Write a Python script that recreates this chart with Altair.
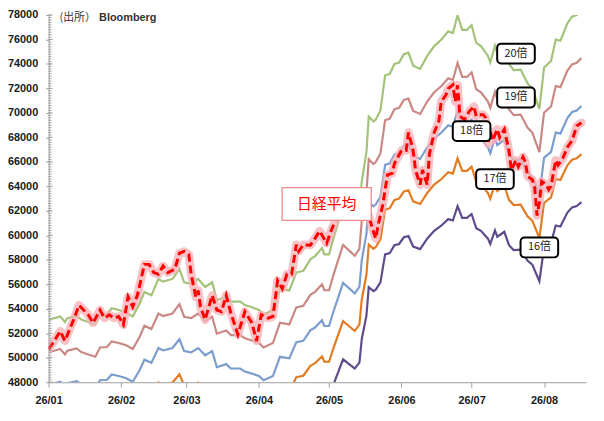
import altair as alt
import pandas as pd

# ---- EPS (1株利益) used for the PER bands ----
eps_dates = [
    "2026-01-05", "2026-01-10", "2026-01-12", "2026-01-13", "2026-01-17", "2026-01-19",
    "2026-01-22", "2026-01-25", "2026-01-27", "2026-01-30", "2026-02-01", "2026-02-04",
    "2026-02-07", "2026-02-10", "2026-02-13", "2026-02-15", "2026-02-18", "2026-02-21",
    "2026-02-23", "2026-02-27", "2026-03-02", "2026-03-04", "2026-03-07", "2026-03-10",
    "2026-03-13", "2026-03-16", "2026-03-18", "2026-03-22", "2026-03-24", "2026-03-28",
    "2026-03-30", "2026-04-02", "2026-04-05", "2026-04-07", "2026-04-11", "2026-04-14",
    "2026-04-18", "2026-04-21", "2026-04-24", "2026-04-27", "2026-04-29", "2026-05-02",
    "2026-05-03", "2026-05-05", "2026-05-07", "2026-05-11", "2026-05-14", "2026-05-16",
    "2026-05-18", "2026-05-19", "2026-05-21", "2026-05-22", "2026-05-24", "2026-05-25",
    "2026-05-27", "2026-05-29", "2026-05-31", "2026-06-02", "2026-06-04", "2026-06-06",
    "2026-06-08", "2026-06-10", "2026-06-13", "2026-06-16", "2026-06-19", "2026-06-22",
    "2026-06-25", "2026-06-27", "2026-06-29", "2026-07-01", "2026-07-03", "2026-07-05",
    "2026-07-07", "2026-07-09", "2026-07-12", "2026-07-13", "2026-07-15", "2026-07-16",
    "2026-07-19", "2026-07-21", "2026-07-23", "2026-07-26", "2026-07-29", "2026-07-31",
    "2026-08-03", "2026-08-05", "2026-08-08", "2026-08-10", "2026-08-12", "2026-08-15",
    "2026-08-17", "2026-08-19", "2026-08-21",
]
eps_values = [
    2655, 2669, 2646, 2662, 2672, 2656,
    2646, 2636, 2676, 2678, 2702, 2695,
    2686, 2669, 2722, 2769, 2755, 2822,
    2811, 2822, 2862, 2808, 2802, 2822,
    2789, 2808, 2735, 2749, 2729, 2729,
    2715, 2706, 2695, 2676, 2695, 2782,
    2775, 2848, 2855, 2902, 2915, 2948,
    2922, 2922, 2991, 3117, 3089, 3070,
    3100, 3220, 3340, 3485, 3465, 3473,
    3510, 3653, 3660, 3700, 3706, 3740,
    3746, 3693, 3680, 3733, 3773, 3799,
    3833, 3826, 3899, 3839, 3839, 3859,
    3786, 3773, 3733, 3706, 3775, 3743,
    3768, 3700, 3675, 3677, 3620, 3600,
    3516, 3685, 3712, 3800, 3795, 3866,
    3893, 3900, 3920,
]

# ---- 日経平均 ----
nikkei_dates = [
    "2026-01-05", "2026-01-07", "2026-01-10", "2026-01-12", "2026-01-14", "2026-01-16",
    "2026-01-18", "2026-01-20", "2026-01-22", "2026-01-24", "2026-01-27", "2026-01-29",
    "2026-01-31", "2026-02-02", "2026-02-04", "2026-02-06", "2026-02-08", "2026-02-10",
    "2026-02-12", "2026-02-15", "2026-02-17", "2026-02-19", "2026-02-21", "2026-02-23",
    "2026-02-25", "2026-02-28", "2026-03-02", "2026-03-04", "2026-03-06", "2026-03-07",
    "2026-03-09", "2026-03-10", "2026-03-11", "2026-03-13", "2026-03-16", "2026-03-18",
    "2026-03-20", "2026-03-22", "2026-03-24", "2026-03-27", "2026-03-30", "2026-04-02",
    "2026-04-04", "2026-04-06", "2026-04-09", "2026-04-11", "2026-04-13", "2026-04-15",
    "2026-04-17", "2026-04-19", "2026-04-21", "2026-04-22", "2026-04-24", "2026-04-27",
    "2026-04-29", "2026-05-01", "2026-05-04", "2026-05-06", "2026-05-08", "2026-05-11",
    "2026-05-13", "2026-05-16", "2026-05-19", "2026-05-22", "2026-05-24", "2026-05-25",
    "2026-05-26", "2026-05-28", "2026-05-30", "2026-06-01", "2026-06-02", "2026-06-05",
    "2026-06-07", "2026-06-08", "2026-06-10", "2026-06-11", "2026-06-13", "2026-06-14",
    "2026-06-16", "2026-06-17", "2026-06-19", "2026-06-21", "2026-06-22", "2026-06-24",
    "2026-06-25", "2026-06-27", "2026-06-28", "2026-06-29", "2026-06-30", "2026-07-02",
    "2026-07-04", "2026-07-06", "2026-07-07", "2026-07-08", "2026-07-10", "2026-07-11",
    "2026-07-12", "2026-07-13", "2026-07-14", "2026-07-16", "2026-07-17", "2026-07-19",
    "2026-07-21", "2026-07-22", "2026-07-24", "2026-07-25", "2026-07-27", "2026-07-28",
    "2026-07-29", "2026-07-31", "2026-08-01", "2026-08-02", "2026-08-03", "2026-08-04",
    "2026-08-06", "2026-08-07", "2026-08-08", "2026-08-10", "2026-08-11", "2026-08-13",
    "2026-08-15", "2026-08-17", "2026-08-19", "2026-08-21",
]
nikkei_values = [
    50710, 51250, 52170, 51380, 52310, 53240,
    54300, 53900, 53510, 52850, 53900, 53240,
    53510, 53240, 53370, 52710, 54970, 54170,
    55100, 57630, 57630, 56960, 56830, 57500,
    56960, 57230, 58550, 58690, 58430, 56830,
    54970, 55500, 54170, 53110, 55100, 53900,
    53770, 55100, 53640, 51900, 53770, 52850,
    51380, 53510, 53240, 53370, 56300, 55640,
    56830, 56830, 59230, 58690, 59230, 59200,
    59750, 60350, 59360, 60420, 61350, 61800,
    62300, 61500, 62400, 61600, 60290, 59750,
    60820, 62500, 64940, 65070, 65870, 66930,
    66930, 68400, 66930, 65340, 64140, 65340,
    64140, 66670, 68400, 69330, 70930, 71460,
    71990, 72300, 70930, 72260, 69730, 69460,
    70130, 70530, 69730, 69860, 69860, 69600,
    67470, 68530, 67740, 68670, 68000, 68670,
    66940, 65340, 66140, 65610, 66410, 66010,
    64810, 64540, 63880, 61620, 62680, 64410,
    64140, 63740, 64010, 66140, 65740, 66270,
    67200, 67740, 68940, 69200,
]

# ---- PER multiples and their labels ----
multiples = [20, 19, 18, 17, 16]
band_labels = ["20倍", "19倍", "18倍", "17倍", "16倍"]
band_colors = ["#a3c27a", "#c98884", "#7b9dcd", "#e27c22", "#5f4a8b"]
label_dates = ["2026-07-24", "2026-07-24", "2026-07-05", "2026-07-15", "2026-08-03"]
label_values = [74850, 71260, 68510, 64600, 59010]

nikkei_label = ["日経平均"]
nikkei_label_date = ["2026-05-04"]
nikkei_label_value = [62560]

y_ticks = list(range(48000, 78001, 2000))
y_minor = list(range(48000, 78001, 200))
tick_months = [1, 2, 3, 4, 5, 6, 7, 8]

# ---- tables ----
band_rows = []
for m, lab in zip(multiples, band_labels):
    for d, e in zip(eps_dates, eps_values):
        band_rows.append({"date": d, "value": e * m, "band": lab})
band_df = pd.DataFrame(band_rows)
nk_df = pd.DataFrame({"date": nikkei_dates, "value": nikkei_values})
lab_df = pd.DataFrame({"date": label_dates, "value": label_values, "text": band_labels})
nkl_df = pd.DataFrame({"date": nikkei_label_date, "value": nikkei_label_value, "text": nikkei_label})

axis_common = dict(
    domainColor="#a0a0a0", tickColor="#a0a0a0", grid=False, title=None,
    labelFont="Liberation Sans", labelFontWeight="bold", labelFontSize=11,
    labelColor="#1a1a1a", labelFlush=False,
)
x_scale = alt.Scale(
    type="utc",
    domain=[alt.DateTime(year=2026, month=1, date=5, utc=True),
            alt.DateTime(year=2026, month=8, date=23, utc=True)],
)
x_axis = alt.Axis(
    values=[alt.DateTime(year=2026, month=m, date=5, utc=True) for m in tick_months],
    format="%y/%m", tickSize=5, labelPadding=7, **axis_common,
)
y_scale = alt.Scale(domain=[48000, 78000], nice=False, zero=False)
y_axis = alt.Axis(values=y_ticks, format="d", tickSize=3, labelPadding=8, **axis_common)

X = alt.X("date:T", scale=x_scale, axis=x_axis)
Y = alt.Y("value:Q", scale=y_scale, axis=y_axis)

bands = alt.Chart(band_df).mark_line(strokeWidth=2.2, clip=True).encode(
    x=X, y=Y,
    color=alt.Color("band:N", scale=alt.Scale(domain=band_labels, range=band_colors), legend=None),
)
glow = alt.Chart(nk_df).mark_line(
    color="#f8b3b8", strokeWidth=8.5, opacity=0.8, clip=True, strokeJoin="round", strokeCap="round"
).encode(x=X, y=Y)
dash = alt.Chart(nk_df).mark_line(
    color="#ff0000", strokeWidth=3, strokeDash=[8, 4], clip=True
).encode(x=X, y=Y)

minor = alt.Chart(pd.DataFrame({"value": y_minor})).mark_rule(color="#a0a0a0", strokeWidth=1).encode(
    y=Y, x=alt.value(0), x2=alt.value(3)
)
major = alt.Chart(pd.DataFrame({"value": y_ticks})).mark_rule(color="#a0a0a0", strokeWidth=1).encode(
    y=Y, x=alt.value(0), x2=alt.value(4)
)

boxes = alt.Chart(lab_df).mark_rect(
    width=38, height=20, cornerRadius=4, fill="white", stroke="black", strokeWidth=2
).encode(x=X, y=Y)
box_text = alt.Chart(lab_df).mark_text(
    font="Noto Sans CJK JP", fontSize=11, color="#222222"
).encode(x=X, y=Y, text="text:N")

nk_box = alt.Chart(nkl_df).mark_rect(
    width=90, height=33, fill="white", stroke="#f08a8a", strokeWidth=1.3
).encode(x=X, y=Y)
nk_text = alt.Chart(nkl_df).mark_text(
    font="Noto Sans CJK JP", fontSize=15, color="#ff0000"
).encode(x=X, y=Y, text="text:N")

src1 = alt.Chart(pd.DataFrame({"t": ["(出所）"]})).mark_text(
    font="Noto Sans CJK JP", fontSize=11, color="#333333", align="left", baseline="middle"
).encode(text="t:N", x=alt.value(11), y=alt.value(3))
src2 = alt.Chart(pd.DataFrame({"t": ["Bloomberg"]})).mark_text(
    font="Liberation Sans", fontSize=11, fontWeight="bold", color="#333333", align="left", baseline="middle"
).encode(text="t:N", x=alt.value(51), y=alt.value(3))

chart = alt.layer(
    bands, glow, dash, minor, major, boxes, box_text, nk_box, nk_text, src1, src2
).properties(
    width=543, height=371,
    padding={"left": 41, "top": 5, "right": 10, "bottom": 30},
    autosize=alt.AutoSizeParams(type="none"),
).configure_view(stroke=None)

chart.save("out.html", embed_options={"renderer": "svg", "actions": False})
